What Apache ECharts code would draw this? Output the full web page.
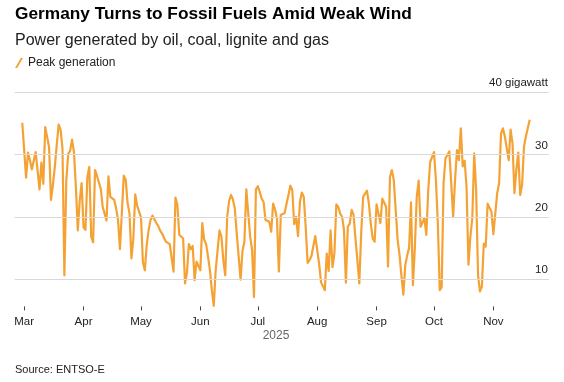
<!DOCTYPE html>
<html>
<head>
<meta charset="utf-8">
<script src="https://cdn.jsdelivr.net/npm/echarts@6/dist/echarts.min.js"></script>
<style>
html,body{margin:0;padding:0;background:#fff;}
#chart{width:564px;height:382px;}
</style>
</head>
<body>
<div id="chart"></div>
<script>
// Daily peak generation (GW) from oil, coal, lignite and gas, 2025-02-28 .. 2025-11-20
const firstDataDate = '2025-02-28';
const peakGW = [
 35.1, 30.7, 26.3, 30.3, 29.1, 27.6, 27.5, 30.4, 27.4, 24.4,
 28.7, 25.3, 34.4, 32.8, 31.2, 22.7, 25.1, 28.0, 31.5, 34.8,
 34.0, 31.0, 10.6, 25.8, 30.1, 30.6, 32.4, 30.4, 24.8, 17.8,
 22.6, 25.4, 18.3, 17.9, 26.4, 28.0, 16.8, 15.9, 27.5, 26.6,
 26.3, 24.5, 21.6, 20.5, 19.4, 26.5, 23.2, 23.1, 22.7, 21.4,
 19.5, 14.8, 20.6, 26.6, 26.0, 22.2, 20.5, 13.3, 16.5, 23.6,
 21.8, 21.6, 19.9, 12.7, 11.4, 15.5, 17.9, 19.5, 20.2, 20.0,
 19.0, 18.5, 17.8, 17.3, 17.1, 16.0, 15.8, 15.6, 15.4, 11.2,
 23.1, 21.9, 17.1, 16.8, 16.5, 9.3, 11.0, 15.6, 14.8, 15.3,
 9.8, 12.8, 12.8, 11.4, 19.0, 16.3, 15.6, 13.6, 11.4, 8.2,
 5.7, 11.4, 11.6, 17.8, 16.8, 13.0, 10.6, 20.0, 22.5, 23.5,
 22.8, 21.3, 17.3, 17.2, 9.9, 14.5, 16.0, 24.4, 24.4, 16.8,
 14.7, 7.1, 24.4, 24.9, 24.0, 22.9, 22.4, 19.5, 19.5, 19.2,
 17.6, 22.1, 21.2, 19.7, 11.2, 20.3, 20.5, 20.6, 22.1, 23.5,
 25.0, 24.3, 18.8, 20.0, 16.9, 22.4, 23.9, 23.2, 18.4, 12.6,
 13.0, 13.7, 13.9, 16.9, 16.7, 12.5, 9.5, 9.3, 8.2, 14.1,
 11.3, 17.8, 11.9, 14.1, 22.0, 21.6, 20.5, 20.0, 17.9, 9.4,
 18.4, 18.9, 21.1, 20.3, 16.5, 13.0, 9.3, 17.5, 23.2, 23.1,
 24.2, 22.1, 18.9, 16.5, 16.0, 22.0, 22.0, 19.0, 22.9, 22.8,
 21.6, 12.0, 26.4, 27.5, 25.9, 21.1, 16.3, 13.9, 10.5, 7.5,
 12.2, 13.8, 15.0, 22.3, 9.0, 15.0, 23.2, 25.8, 18.4, 18.4,
 19.8, 17.1, 24.3, 28.8, 29.0, 30.4, 25.9, 19.0, 8.2, 8.7,
 25.4, 29.4, 29.7, 30.5, 25.4, 20.0, 25.9, 30.7, 29.1, 34.2,
 28.1, 29.0, 24.8, 12.3, 16.8, 19.8, 30.2, 24.3, 10.6, 8.0,
 8.8, 15.7, 15.2, 22.1, 21.9, 20.8, 17.2, 16.9, 23.8, 25.4,
 33.4, 34.2, 32.9, 31.0, 29.1, 34.0, 31.8, 23.8, 27.5, 30.3,
 23.5, 25.1, 31.3, 32.9, 34.3, 35.6
];
// Axis window (a few empty days either side so gridlines run past the line)
const axisStartDate = '2025-02-24';
const axisEndDate = '2025-11-30';
const yTicks = [10, 20, 30, 40];
const monthNames = ['Jan','Feb','Mar','Apr','May','Jun','Jul','Aug','Sep','Oct','Nov','Dec'];

function iso(d){ return d.toISOString().slice(0,10); }
const categories = [];
for (let t = Date.parse(axisStartDate + 'T00:00:00Z'); t <= Date.parse(axisEndDate + 'T00:00:00Z'); t += 86400000) {
  categories.push(iso(new Date(t)));
}
const offset = categories.indexOf(firstDataDate);
const seriesData = categories.map((c, i) => {
  const k = i - offset;
  return (k >= 0 && k < peakGW.length) ? peakGW[k] : null;
});
const isMonthStart = (idx, val) => categories[idx].slice(8) === '01';

const FONT = '"Liberation Sans", Arial, Helvetica, sans-serif';
const ORANGE = '#F5A234';

const chart = echarts.init(document.getElementById('chart'));
chart.setOption({
  animation: false,
  backgroundColor: '#fff',
  textStyle: { fontFamily: FONT },
  grid: { left: 14.6, right: 15.1, top: 92.3, bottom: 75.6, containLabel: false },
  legend: {
    left: 15, top: 57, padding: 0, itemGap: 10,
    itemWidth: 8, itemHeight: 10,
    data: [{ name: 'Peak generation', icon: 'path://M0,10 L2.2,10 L8,0 L5.8,0 Z' }],
    textStyle: { fontSize: 12, color: '#222', fontFamily: FONT },
    selectedMode: false
  },
  xAxis: {
    type: 'category',
    data: categories,
    boundaryGap: false,
    axisLine: { show: false },
    axisTick: { show: true, interval: isMonthStart, length: 4, lineStyle: { color: '#444', width: 1 } },
    axisLabel: {
      interval: isMonthStart,
      margin: 9,
      fontSize: 11.5,
      color: '#222',
      fontFamily: FONT,
      formatter: v => monthNames[parseInt(v.slice(5,7),10) - 1]
    },
    splitLine: { show: false }
  },
  yAxis: {
    type: 'value',
    min: 5.6, max: 40,
    show: false,
    splitLine: { show: false }
  },
  series: [
    {
      name: 'grid',
      type: 'line',
      data: [],
      z: 1,
      silent: true,
      markLine: {
        silent: true,
        symbol: ['none', 'none'],
        lineStyle: { color: '#d9d9d9', width: 1, type: 'solid' },
        label: {
          position: 'insideEndTop',
          distance: [1, 3],
          color: '#222',
          fontSize: 11.5,
          fontFamily: FONT,
          formatter: p => (p.value === 40 ? '40 gigawatt' : String(p.value))
        },
        data: yTicks.map(v => ({ yAxis: v }))
      }
    },
    {
      name: 'Peak generation',
      type: 'line',
      data: seriesData,
      z: 3,
      showSymbol: false,
      symbol: 'none',
      smooth: false,
      lineStyle: { color: ORANGE, width: 2.2, join: 'round' },
      itemStyle: { color: ORANGE }
    }
  ],
  graphic: [
    { type: 'text', left: 15, top: 6, style: { text: 'Germany Turns to Fossil Fuels Amid Weak Wind', font: 'bold 17.3px ' + FONT, fill: '#000' } },
    { type: 'text', left: 15, top: 33, style: { text: 'Power generated by oil, coal, lignite and gas', font: '16px ' + FONT, fill: '#222' } },
    { type: 'text', x: 276, y: 336, style: { text: '2025', font: '12px ' + FONT, fill: '#666', align: 'center', verticalAlign: 'middle' } },
    { type: 'text', left: 15, top: 364, style: { text: 'Source: ENTSO-E', font: '11px ' + FONT, fill: '#222' } }
  ]
});
</script>
</body>
</html>
